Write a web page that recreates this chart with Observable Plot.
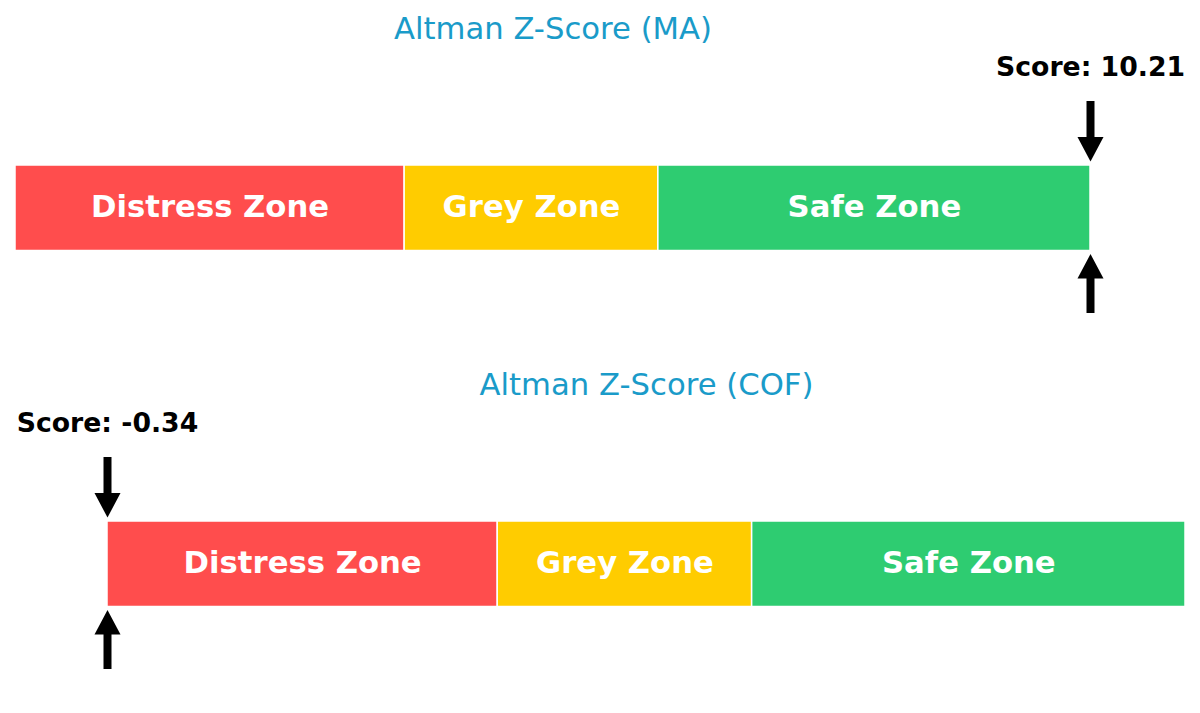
<!DOCTYPE html>
<html>
<head>
<meta charset="utf-8">
<script src="https://cdn.jsdelivr.net/npm/d3@7"></script>
<script src="https://cdn.jsdelivr.net/npm/@observablehq/plot@0.6"></script>
<style>
  html, body { margin: 0; padding: 0; background: #fff; }
  #chart svg { display: block; }
</style>
</head>
<body>
<div id="chart"></div>
<script>
// ---- data ----
const companies = ["MA", "COF"];
const scores = [10.21, -0.34];
const zoneNames = ["Distress Zone", "Grey Zone", "Safe Zone"];
const zoneStarts = [0, 1.81, 2.99];
const zoneEnds = [1.81, 2.99, 5];
const zoneColors = ["#ff4d4d", "#ffcc00", "#2ecc71"];
const axisLimits = [0, 5];

// ---- layout ----
const W = 1200;
const panelHeights = [356, 357];
const xRanges = [[15, 1090], [107, 1185]];
const L = {
  titleY: 28.2, scoreY: 66.5,
  barTop: 165, barBottom: 250.5,
  downShaftTop: 101, downHeadBase: 137, downTip: 161,
  upTip: 253.5, upHeadBase: 278.5, upShaftBottom: 313
};
const titleColor = "#1a9bc9";
const font = "DejaVu Sans, Liberation Sans, sans-serif";

const headDown = { draw(ctx) { ctx.moveTo(0, 0); ctx.lineTo(-13, -24.5); ctx.lineTo(13, -24.5); ctx.closePath(); } };
const headUp = { draw(ctx) { ctx.moveTo(0, 0); ctx.lineTo(-13, 24.5); ctx.lineTo(13, 24.5); ctx.closePath(); } };

const root = document.getElementById("chart");

companies.forEach((company, i) => {
  const H = panelHeights[i];
  const score = scores[i];
  const pos = Math.max(axisLimits[0], Math.min(axisLimits[1], score));
  const zones = zoneNames.map((name, k) => ({
    name, x1: zoneStarts[k], x2: zoneEnds[k], color: zoneColors[k]
  }));
  const mid = (axisLimits[0] + axisLimits[1]) / 2;

  const chart = Plot.plot({
    width: W,
    height: H,
    margin: 0,
    style: { fontFamily: font, background: "#fff", overflow: "visible" },
    x: { domain: axisLimits, range: xRanges[i], axis: null },
    y: { domain: [0, H], range: [0, H], axis: null },
    marks: [
      Plot.rectX(zones, {
        x1: "x1", x2: "x2", y1: () => L.barTop, y2: () => L.barBottom,
        fill: "color", stroke: "#fff", strokeWidth: 1.5
      }),
      Plot.text(zones, {
        x: d => (d.x1 + d.x2) / 2, y: () => (L.barTop + L.barBottom) / 2 - 1.5,
        text: "name", fill: "#fff", fontSize: 30.7, fontWeight: "bold",
        textAnchor: "middle", lineAnchor: "middle"
      }),
      Plot.text([`Altman Z-Score (${company})`], {
        x: () => mid, y: () => L.titleY, text: d => d,
        fill: titleColor, fontSize: 30.7, textAnchor: "middle", lineAnchor: "middle"
      }),
      Plot.text([`Score: ${score.toFixed(2)}`], {
        x: () => pos, y: () => L.scoreY, text: d => d,
        fill: "#000", fontSize: 26.7, fontWeight: "bold",
        textAnchor: "middle", lineAnchor: "middle"
      }),
      // down arrow
      Plot.ruleX([pos], { x: d => d, y1: () => L.downShaftTop, y2: () => L.downHeadBase + 1, stroke: "#000", strokeWidth: 8 }),
      Plot.dot([pos], { x: d => d, y: () => L.downTip, symbol: headDown, fill: "#000", stroke: null, r: 10 }),
      // up arrow
      Plot.ruleX([pos], { x: d => d, y1: () => L.upHeadBase - 1, y2: () => L.upShaftBottom, stroke: "#000", strokeWidth: 8 }),
      Plot.dot([pos], { x: d => d, y: () => L.upTip, symbol: headUp, fill: "#000", stroke: null, r: 10 })
    ]
  });
  root.appendChild(chart);
});
</script>
</body>
</html>
